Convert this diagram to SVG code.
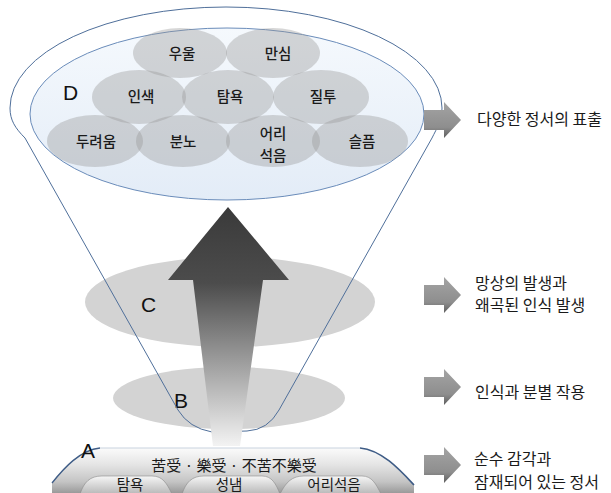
<svg xmlns="http://www.w3.org/2000/svg" width="611" height="493" viewBox="0 0 611 493">
<defs>
<style>
.lbl{font-family:"Noto Sans CJK KR","Noto Sans",sans-serif;font-size:14.5px;font-weight:500;fill:#1a1a1a;text-anchor:middle}
.bar{font-family:"Noto Sans CJK KR","Noto Sans",sans-serif;font-size:15px;fill:#1a1a1a;text-anchor:middle}
.side{font-family:"Noto Sans CJK KR","Noto Sans",sans-serif;font-size:16px;fill:#1a1a1a}
.big{font-family:"Liberation Sans","Noto Sans",sans-serif;font-size:21px;fill:#111}
.emo{fill:#979797;fill-opacity:0.39}
.tab{fill:url(#tabG);stroke:#8a8a8a;stroke-width:0.6}
</style>
<linearGradient id="dG" x1="0" y1="0" x2="0" y2="1">
<stop offset="0" stop-color="#f5f9fd"/>
<stop offset="1" stop-color="#e3ecf7"/>
</linearGradient>
<linearGradient id="upG" gradientUnits="userSpaceOnUse" x1="0" y1="207" x2="0" y2="445">
<stop offset="0" stop-color="#3a3a3a"/>
<stop offset="0.32" stop-color="#4c4c4c"/>
<stop offset="1" stop-color="#f2f2f2"/>
</linearGradient>
<linearGradient id="barG" x1="0" y1="0" x2="0" y2="1">
<stop offset="0" stop-color="#fbfbfb"/>
<stop offset="0.35" stop-color="#e6e6e6"/>
<stop offset="0.75" stop-color="#c4c4c4"/>
<stop offset="1" stop-color="#9a9a9a"/>
</linearGradient>
<linearGradient id="tabG" x1="0" y1="0" x2="0" y2="1">
<stop offset="0" stop-color="#f6f6f6"/>
<stop offset="1" stop-color="#b8b8b8"/>
</linearGradient>
<linearGradient id="arG" x1="0" y1="0" x2="0" y2="1">
<stop offset="0" stop-color="#a4a4a4"/>
<stop offset="0.7" stop-color="#8e8e8e"/>
<stop offset="1" stop-color="#5e5e5e"/>
</linearGradient>
<path id="rarrow" d="M0,-10 L20,-10 L20,-18 L37,0 L20,18 L20,10 L0,10 Z" fill="url(#arG)"/>
</defs>
<rect width="611" height="493" fill="#ffffff"/>

<g id="levelC"><ellipse cx="230" cy="302" rx="145" ry="45" fill="#d3d3d3"/>
<text class="big" x="141" y="312">C</text></g>
<g id="levelB"><ellipse cx="229" cy="398" rx="116" ry="31" fill="#d3d3d3"/>
<text class="big" x="174" y="408">B</text></g>

<g id="funnel">
<path d="M10,108 A216,101 0 0 1 442,108 C442,120 437,128 432,138 L279,410 Q268,430 247,431 L212,432 Q189,428 178,410 L25,138 C15,128 10,120 10,108 Z" fill="none" stroke="#4f6f9a" stroke-width="1"/>
</g>

<g id="levelD">
<ellipse cx="227" cy="114" rx="197" ry="86" fill="url(#dG)" stroke="#6a8cba" stroke-width="1"/>
<ellipse class="emo" cx="180" cy="53" rx="47" ry="25"/>
<ellipse class="emo" cx="273" cy="53" rx="47" ry="25"/>
<ellipse class="emo" cx="139" cy="97" rx="47" ry="27"/>
<ellipse class="emo" cx="228" cy="97" rx="46" ry="27"/>
<ellipse class="emo" cx="321" cy="97" rx="48" ry="27"/>
<ellipse class="emo" cx="95" cy="141" rx="48" ry="26"/>
<ellipse class="emo" cx="183" cy="141" rx="47" ry="26"/>
<ellipse class="emo" cx="273" cy="141" rx="47" ry="26"/>
<ellipse class="emo" cx="360" cy="141" rx="48" ry="26"/>
<text class="big" x="63" y="100">D</text>
<text class="lbl" x="182" y="59">우울</text>
<text class="lbl" x="278" y="59">만심</text>
<text class="lbl" x="141" y="102">인색</text>
<text class="lbl" x="230" y="102">탐욕</text>
<text class="lbl" x="323" y="102">질투</text>
<text class="lbl" x="96" y="147">두려움</text>
<text class="lbl" x="183" y="147">분노</text>
<text class="lbl" x="273" y="139">어리</text>
<text class="lbl" x="273" y="161">석음</text>
<text class="lbl" x="362" y="147">슬픔</text>
</g>

<g id="upArrow">
<path d="M228,207 L289,280 L263,280 L240,446 L213,446 L193,280 L168,280 Z" fill="url(#upG)"/>
</g>

<g id="levelA">
<path d="M52,483 C64,468 80,450 100,448 L360,448 C382,450 400,470 414,485 L414,493 L52,493 Z" fill="url(#barG)"/>
<path d="M52,483 C64,468 80,450 100,448" fill="none" stroke="#3e5c86" stroke-width="1.3"/>
<path d="M360,448 C382,450 400,470 414,485" fill="none" stroke="#3e5c86" stroke-width="1.6"/>
<path d="M100,448 L360,448" fill="none" stroke="#c8d2de" stroke-width="1"/>
<path class="tab" d="M80,494 C84,482 90,476 102,476 L152,476 C163,476 167,484 172,494 Z"/>
<path class="tab" d="M182,494 C186,482 192,476 204,476 L262,476 C272,476 276,484 280,494 Z"/>
<path class="tab" d="M280,494 C286,482 292,476 304,476 L362,476 C372,476 376,484 381,494 Z"/>
<text class="big" x="81" y="458">A</text>
<text class="bar" x="234" y="471">苦受 · 樂受 · 不苦不樂受</text>
<text class="bar" x="130" y="490" style="font-size:14.5px">탐욕</text>
<text class="bar" x="229" y="490" style="font-size:14.5px">성냄</text>
<text class="bar" x="334" y="490" style="font-size:14.5px">어리석음</text>
</g>

<g id="connectors">
<use href="#rarrow" x="424" y="120"/>
<use href="#rarrow" x="424" y="295"/>
<use href="#rarrow" x="424" y="387"/>
<use href="#rarrow" x="424" y="465"/>
</g>

<g id="labels">
<text class="side" x="477" y="125">다양한 정서의 표출</text>
<text class="side" x="475" y="289">망상의 발생과</text>
<text class="side" x="475" y="311">왜곡된 인식 발생</text>
<text class="side" x="475" y="398">인식과 분별 작용</text>
<text class="side" x="474" y="465">순수 감각과</text>
<text class="side" x="474" y="488">잠재되어 있는 정서</text>
</g>
</svg>
